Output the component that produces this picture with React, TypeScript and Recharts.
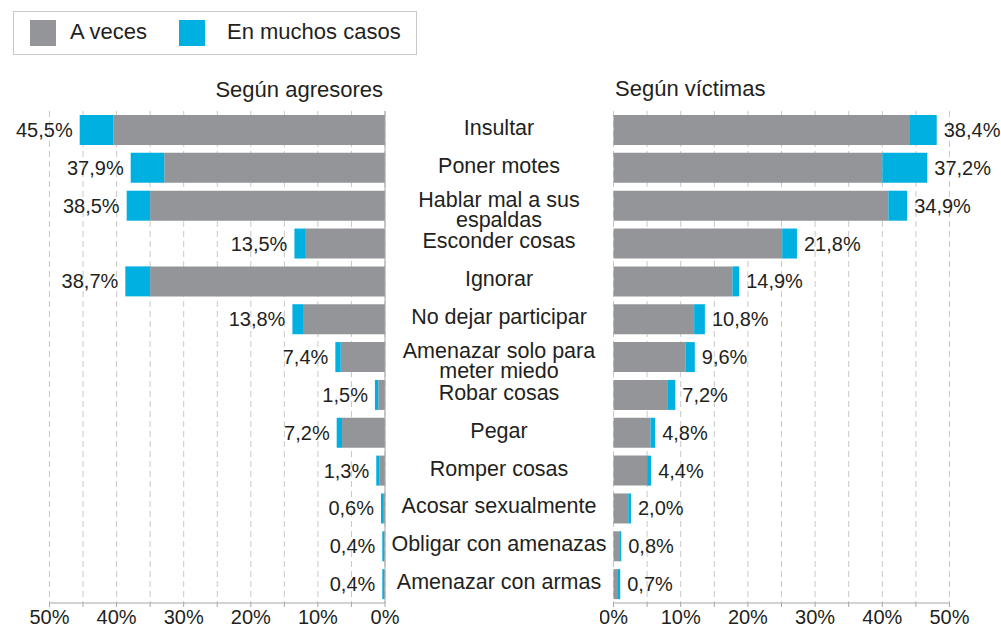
import React from "react";
import { BarChart, Bar, XAxis, YAxis, CartesianGrid, LabelList } from "recharts";

// categorías (con salto de línea donde el original parte la etiqueta)
const categories = [
  "Insultar",
  "Poner motes",
  "Hablar mal a sus\nespaldas",
  "Esconder cosas",
  "Ignorar",
  "No dejar participar",
  "Amenazar solo para\nmeter miedo",
  "Robar cosas",
  "Pegar",
  "Romper cosas",
  "Acosar sexualmente",
  "Obligar con amenazas",
  "Amenazar con armas",
];

// Según agresores (%)
const agresoresAVeces = [40.5, 32.9, 35.0, 11.8, 35.0, 12.1, 6.6, 1.0, 6.4, 0.8, 0.3, 0.1, 0.1];
const agresoresMuchos = [5.0, 5.0, 3.5, 1.7, 3.7, 1.7, 0.8, 0.5, 0.8, 0.5, 0.3, 0.3, 0.3];
const agresoresLabels = ["45,5%", "37,9%", "38,5%", "13,5%", "38,7%", "13,8%", "7,4%", "1,5%", "7,2%", "1,3%", "0,6%", "0,4%", "0,4%"];

// Según víctimas (%), leído sobre el eje dibujado
const victimasAVeces = [44.0, 40.0, 40.9, 25.1, 17.7, 12.0, 10.7, 8.1, 5.5, 5.0, 2.2, 0.85, 0.55];
const victimasMuchos = [4.1, 6.7, 2.8, 2.2, 1.0, 1.6, 1.4, 1.1, 0.7, 0.6, 0.4, 0.3, 0.45];
const victimasLabels = ["38,4%", "37,2%", "34,9%", "21,8%", "14,9%", "10,8%", "9,6%", "7,2%", "4,8%", "4,4%", "2,0%", "0,8%", "0,7%"];

const xTicks = [0, 5, 10, 15, 20, 25, 30, 35, 40, 45, 50];

const GRAY = "#939598";
const BLUE = "#00b0e0";
const TEXT = "#231f20";
const AXIS = "#a6a6a6";
const GRID = "#c8c8c8";
const FONT = "'Liberation Sans', Arial, sans-serif";

const agresoresData = categories.map((name, i) => ({
  name,
  aVeces: agresoresAVeces[i],
  muchos: agresoresMuchos[i],
  label: agresoresLabels[i],
}));

const victimasData = categories.map((name, i) => ({
  name,
  aVeces: victimasAVeces[i],
  muchos: victimasMuchos[i],
  label: victimasLabels[i],
}));

const pctFormatter = (v: number) => (v % 10 === 0 ? `${v}%` : "");

const CategoryTick = (props: any) => {
  const { x, y, payload } = props;
  const lines = String(payload.value).split("\n");
  const first = y + 5 - (lines.length - 1) * 4;
  return (
    <text x={x + 114} y={first} textAnchor="middle" fill={TEXT} fontSize={21.5} fontFamily={FONT}>
      {lines.map((l, i) => (
        <tspan key={i} x={x + 114} y={first + i * 20}>
          {l}
        </tspan>
      ))}
    </text>
  );
};

const leftLabel = (props: any) => {
  const { x, y, width, height, value } = props;
  const edge = Math.min(x, x + width);
  return (
    <text x={edge - 7} y={y + height / 2 + 7} textAnchor="end" fill={TEXT} fontSize={20} fontFamily={FONT}>
      {value}
    </text>
  );
};

const rightLabel = (props: any) => {
  const { x, y, width, height, value } = props;
  const edge = Math.max(x, x + width);
  return (
    <text x={edge + 7} y={y + height / 2 + 7} textAnchor="start" fill={TEXT} fontSize={20} fontFamily={FONT}>
      {value}
    </text>
  );
};

const tickStyle = { fill: TEXT, fontSize: 20, fontFamily: FONT };

const AgresoresChart = () => (
  <BarChart
    width={613}
    height={627}
    data={agresoresData}
    layout="vertical"
    margin={{ top: 111, right: 0, bottom: 0, left: 49.5 }}
    barSize={30}
  >
    <CartesianGrid horizontal={false} stroke={GRID} strokeDasharray="6 4" />
    <XAxis
      type="number"
      domain={[0, 50]}
      ticks={xTicks}
      interval={0}
      reversed
      tickFormatter={pctFormatter}
      height={24}
      tickSize={4}
      tickMargin={3}
      tick={tickStyle}
      axisLine={{ stroke: AXIS }}
      tickLine={{ stroke: AXIS }}
    />
    <XAxis
      xAxisId="top"
      orientation="top"
      type="number"
      domain={[0, 50]}
      ticks={xTicks}
      interval={0}
      reversed
      mirror
      height={0}
      tickSize={4}
      tickFormatter={() => ""}
      axisLine={{ stroke: GRID }}
      tickLine={{ stroke: GRID }}
    />
    <YAxis
      type="category"
      dataKey="name"
      orientation="right"
      width={228}
      interval={0}
      tickSize={0}
      tickMargin={0}
      tickLine={false}
      axisLine={{ stroke: AXIS }}
      tick={<CategoryTick />}
    />
    <Bar dataKey="aVeces" stackId="a" fill={GRAY} isAnimationActive={false} />
    <Bar dataKey="muchos" stackId="a" fill={BLUE} isAnimationActive={false}>
      <LabelList dataKey="label" content={leftLabel} />
    </Bar>
  </BarChart>
);

const VictimasChart = () => (
  <BarChart
    width={401}
    height={627}
    data={victimasData}
    layout="vertical"
    margin={{ top: 111, right: 51.5, bottom: 0, left: 13.5 }}
    barSize={30}
  >
    <CartesianGrid horizontal={false} stroke={GRID} strokeDasharray="6 4" />
    <XAxis
      type="number"
      domain={[0, 50]}
      ticks={xTicks}
      interval={0}
      tickFormatter={pctFormatter}
      height={24}
      tickSize={4}
      tickMargin={3}
      tick={tickStyle}
      axisLine={{ stroke: AXIS }}
      tickLine={{ stroke: AXIS }}
    />
    <XAxis
      xAxisId="top"
      orientation="top"
      type="number"
      domain={[0, 50]}
      ticks={xTicks}
      interval={0}
      mirror
      height={0}
      tickSize={4}
      tickFormatter={() => ""}
      axisLine={{ stroke: GRID }}
      tickLine={{ stroke: GRID }}
    />
    <YAxis type="category" dataKey="name" width={0} tick={false} tickLine={false} axisLine={{ stroke: AXIS }} />
    <Bar dataKey="aVeces" stackId="a" fill={GRAY} isAnimationActive={false} />
    <Bar dataKey="muchos" stackId="a" fill={BLUE} isAnimationActive={false}>
      <LabelList dataKey="label" content={rightLabel} />
    </Bar>
  </BarChart>
);

export default function App() {
  return (
    <div style={{ position: "absolute", left: 0, top: 0, width: 1001, height: 627, background: "#fff", overflow: "hidden" }}>
      <svg width={1001} height={627} style={{ position: "absolute", left: 0, top: 0 }} fontFamily={FONT}>
        <rect x={13.5} y={11.5} width={403} height={43} fill="#fff" stroke={GRID} />
        <rect x={30} y={20} width={26} height={26} fill={GRAY} />
        <text x={70} y={39} fontSize={22} fill={TEXT}>A veces</text>
        <rect x={179} y={20} width={26} height={26} fill={BLUE} />
        <text x={227} y={39} fontSize={22} fill={TEXT}>En muchos casos</text>
        <text x={383} y={96.5} fontSize={22} fill={TEXT} textAnchor="end">Según agresores</text>
        <text x={615} y={96} fontSize={22} fill={TEXT}>Según víctimas</text>
      </svg>
      <div style={{ position: "absolute", left: 0, top: 0 }}>
        <AgresoresChart />
      </div>
      <div style={{ position: "absolute", left: 600, top: 0 }}>
        <VictimasChart />
      </div>
    </div>
  );
}
